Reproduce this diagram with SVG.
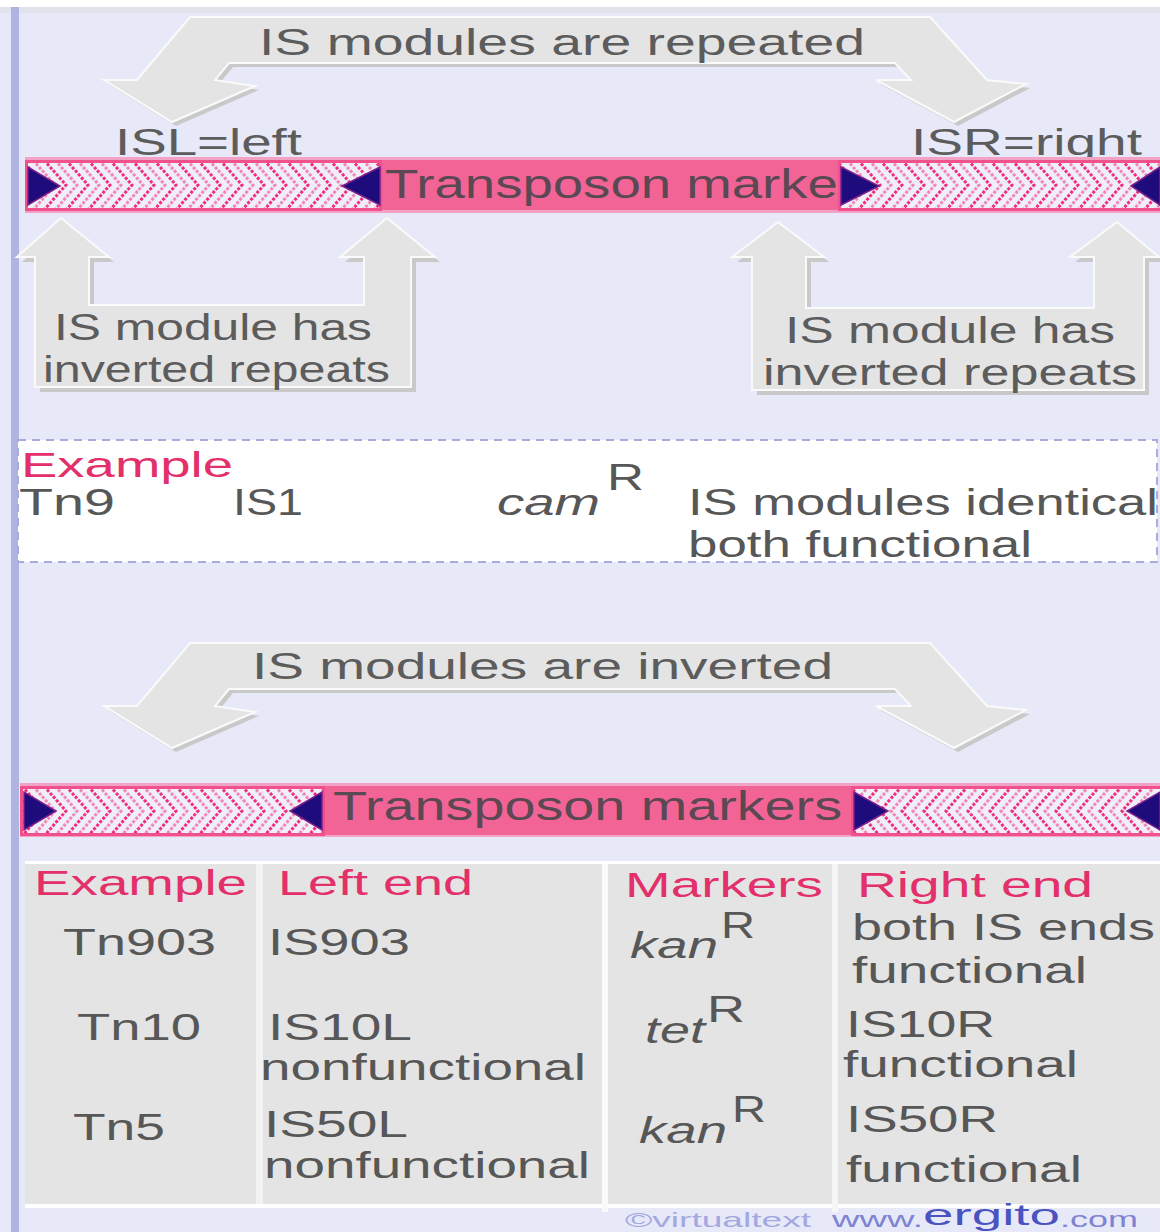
<svg xmlns="http://www.w3.org/2000/svg" width="1160" height="1232" viewBox="0 0 1160 1232">
<style>
text{font-family:"Liberation Sans",Arial,sans-serif;}
.g{fill:#5c5c5c;font-size:37px;}
.gs{fill:#575757;font-size:37px;}
.pk{fill:#e3306a;font-size:35px;}
.it{font-style:italic;}
.arr{fill:#e4e4e4;stroke:#fafafa;stroke-width:2;}
.sh{fill:#c9c9c9;}
.tri{fill:#1e0c7c;stroke:#7a1e8c;stroke-width:1.5;}
.solid{fill:#f26496;}
.bt{fill:#5a4852;font-size:40px;}
</style>
<defs>
<pattern id="hR1" patternUnits="userSpaceOnUse" x="0" y="160" width="22" height="50">
<rect width="22" height="50" fill="#f0eef8"/>
<g fill="none" stroke-width="3" stroke-dasharray="3 1.6">
<polyline points="0,0 22,25 0,50" stroke="#f02e7c"/>
<polyline points="-22,0 0,25 -22,50" stroke="#f02e7c"/>
<polyline points="11,0 33,25 11,50" stroke="#f287b6"/>
<polyline points="-11,0 11,25 -11,50" stroke="#f287b6"/>
</g>
</pattern>
<pattern id="hR2" patternUnits="userSpaceOnUse" x="0" y="786" width="22" height="50">
<rect width="22" height="50" fill="#f0eef8"/>
<g fill="none" stroke-width="3" stroke-dasharray="3 1.6">
<polyline points="0,0 22,25 0,50" stroke="#f02e7c"/>
<polyline points="-22,0 0,25 -22,50" stroke="#f02e7c"/>
<polyline points="11,0 33,25 11,50" stroke="#f287b6"/>
<polyline points="-11,0 11,25 -11,50" stroke="#f287b6"/>
</g>
</pattern>
<pattern id="hL2" patternUnits="userSpaceOnUse" x="0" y="786" width="22" height="50">
<rect width="22" height="50" fill="#f0eef8"/>
<g fill="none" stroke-width="3" stroke-dasharray="3 1.6">
<polyline points="22,0 0,25 22,50" stroke="#f02e7c"/>
<polyline points="44,0 22,25 44,50" stroke="#f02e7c"/>
<polyline points="11,0 -11,25 11,50" stroke="#f287b6"/>
<polyline points="33,0 11,25 33,50" stroke="#f287b6"/>
</g>
</pattern>
<polygon id="bent" points="190,17 930,17 987,80 1026,84 954,122 876,80 911,80 895,63 229,63 215,80 255,86 172,122 104,80 137,80"/>
</defs>

<!-- background -->
<rect width="1160" height="1232" fill="#e7e9f8"/>
<rect width="1160" height="7" fill="#ffffff"/>
<rect y="7" width="1160" height="6" fill="#e0e2ec"/>
<rect x="11" y="7" width="8" height="1225" fill="#b0b4e0"/>

<g id="connectors">
<g id="arrow-repeated">
<use href="#bent" class="sh" transform="translate(4,4)"/>
<use href="#bent" class="arr"/>
<text class="g" x="259" y="55" textLength="606" lengthAdjust="spacingAndGlyphs">IS modules are repeated</text>
</g>
<g id="arrow-left-ir">
<polygon class="sh" transform="translate(5,5)" points="61,218 109,257 89,257 89,305 364,305 364,257 340,257 387,218 435,257 411,257 411,387 35,387 35,257 17,257"/>
<polygon class="arr" points="61,218 109,257 89,257 89,305 364,305 364,257 340,257 387,218 435,257 411,257 411,387 35,387 35,257 17,257"/>
<text class="g" x="54" y="340" textLength="318" lengthAdjust="spacingAndGlyphs">IS module has</text>
<text class="g" x="43" y="382" textLength="347" lengthAdjust="spacingAndGlyphs">inverted repeats</text>
</g>
<g id="arrow-right-ir">
<polygon class="sh" transform="translate(5,5)" points="778,222 824,257 806,257 806,308 1094,308 1094,257 1070,257 1117,222 1159,257 1144,257 1144,390 752,390 752,257 732,257"/>
<polygon class="arr" points="778,222 824,257 806,257 806,308 1094,308 1094,257 1070,257 1117,222 1159,257 1144,257 1144,390 752,390 752,257 732,257"/>
<text class="g" x="785" y="343" textLength="330" lengthAdjust="spacingAndGlyphs">IS module has</text>
<text class="g" x="763" y="385" textLength="374" lengthAdjust="spacingAndGlyphs">inverted repeats</text>
</g>
<g id="arrow-inverted" transform="translate(0,626)">
<use href="#bent" class="sh" transform="translate(4,4)"/>
<use href="#bent" class="arr"/>
</g>
<text class="g" x="252" y="679" textLength="581" lengthAdjust="spacingAndGlyphs">IS modules are inverted</text>
</g>

<g id="labels-top">
<text class="g" x="115" y="155" textLength="187" lengthAdjust="spacingAndGlyphs">ISL=left</text>
<text class="g" x="911" y="155" textLength="231" lengthAdjust="spacingAndGlyphs">ISR=right</text>
</g>

<g id="transposon-top">
<rect x="25" y="157" width="1135" height="56" fill="#f2a2c4"/>
<rect x="381" y="160" width="460" height="50" class="solid"/>
<text class="bt" x="385" y="198" textLength="471" lengthAdjust="spacingAndGlyphs">Transposon marker</text>
<rect x="26.5" y="161.5" width="354" height="48" fill="url(#hR1)" stroke="#f0508c" stroke-width="3"/>
<rect x="839.5" y="161.5" width="324" height="48" fill="url(#hR1)" stroke="#f0508c" stroke-width="3"/>
<polygon class="tri" points="28,167 28,205 60,186"/>
<polygon class="tri" points="380,167 380,205 342,186"/>
<polygon class="tri" points="841,167 841,205 879,186"/>
<polygon class="tri" points="1160,167 1160,205 1131,186"/>
</g>

<g id="example-box">
<rect x="18" y="440" width="1139" height="122" fill="#ffffff" stroke="#a8acdc" stroke-width="2" stroke-dasharray="8 6"/>
<text class="pk" x="21" y="477" textLength="212" lengthAdjust="spacingAndGlyphs" fill="#e8467a">Example</text>
<text class="gs" x="19" y="515" textLength="96" lengthAdjust="spacingAndGlyphs">Tn9</text>
<text class="gs" x="233" y="515" textLength="70" lengthAdjust="spacingAndGlyphs">IS1</text>
<text class="gs it" x="497" y="515" textLength="103" lengthAdjust="spacingAndGlyphs">cam</text>
<text class="gs" x="607" y="490" textLength="37" lengthAdjust="spacingAndGlyphs">R</text>
<text class="gs" x="688" y="515" textLength="470" lengthAdjust="spacingAndGlyphs">IS modules identical</text>
<text class="gs" x="688" y="557" textLength="344" lengthAdjust="spacingAndGlyphs">both functional</text>
</g>

<g id="transposon-bottom">
<rect x="20" y="783" width="1140" height="54" fill="#f2a2c4"/>
<rect x="324" y="786" width="530" height="49" class="solid"/>
<text class="bt" x="333" y="820" textLength="509" lengthAdjust="spacingAndGlyphs">Transposon markers</text>
<rect x="21.5" y="787.5" width="302" height="47" fill="url(#hR2)" stroke="#f0508c" stroke-width="3"/>
<rect x="852.5" y="787.5" width="311" height="47" fill="url(#hL2)" stroke="#f0508c" stroke-width="3"/>
<polygon class="tri" points="24,792 24,830 56,811"/>
<polygon class="tri" points="322,792 322,830 290,811"/>
<polygon class="tri" points="854,792 854,830 888,811"/>
<polygon class="tri" points="1160,792 1160,830 1127,811"/>
</g>

<g id="table">
<rect x="25" y="861" width="1135" height="3" fill="#ffffff"/>
<rect x="25" y="864" width="1135" height="340" fill="#e4e4e4"/>
<rect x="25" y="1204" width="1135" height="4" fill="#ffffff"/>
<rect x="256" y="864" width="7" height="340" fill="#f2f2f2"/>
<rect x="602" y="864" width="6" height="348" fill="#fafafa"/>
<rect x="832" y="864" width="6" height="348" fill="#f6f6f6"/>
<text class="pk" x="34" y="895" textLength="213" lengthAdjust="spacingAndGlyphs" fill="#e8467a">Example</text>
<text class="pk" x="278" y="895" textLength="195" lengthAdjust="spacingAndGlyphs">Left end</text>
<text class="pk" x="625" y="897" textLength="198" lengthAdjust="spacingAndGlyphs">Markers</text>
<text class="pk" x="857" y="897" textLength="236" lengthAdjust="spacingAndGlyphs">Right end</text>

<text class="gs" x="63" y="955" textLength="153" lengthAdjust="spacingAndGlyphs">Tn903</text>
<text class="gs" x="268" y="955" textLength="142" lengthAdjust="spacingAndGlyphs">IS903</text>
<text class="gs it" x="630" y="958" textLength="88" lengthAdjust="spacingAndGlyphs">kan</text>
<text class="gs" x="721" y="938" textLength="34" lengthAdjust="spacingAndGlyphs">R</text>
<text class="gs" x="852" y="940" textLength="303" lengthAdjust="spacingAndGlyphs">both IS ends</text>
<text class="gs" x="852" y="983" textLength="235" lengthAdjust="spacingAndGlyphs">functional</text>

<text class="gs" x="77" y="1040" textLength="124" lengthAdjust="spacingAndGlyphs">Tn10</text>
<text class="gs" x="268" y="1040" textLength="144" lengthAdjust="spacingAndGlyphs">IS10L</text>
<text class="gs" x="260" y="1080" textLength="326" lengthAdjust="spacingAndGlyphs">nonfunctional</text>
<text class="gs it" x="645" y="1043" textLength="60" lengthAdjust="spacingAndGlyphs">tet</text>
<text class="gs" x="707" y="1022" textLength="38" lengthAdjust="spacingAndGlyphs">R</text>
<text class="gs" x="846" y="1037" textLength="149" lengthAdjust="spacingAndGlyphs">IS10R</text>
<text class="gs" x="843" y="1077" textLength="235" lengthAdjust="spacingAndGlyphs">functional</text>

<text class="gs" x="73" y="1140" textLength="92" lengthAdjust="spacingAndGlyphs">Tn5</text>
<text class="gs" x="264" y="1137" textLength="144" lengthAdjust="spacingAndGlyphs">IS50L</text>
<text class="gs" x="264" y="1178" textLength="326" lengthAdjust="spacingAndGlyphs">nonfunctional</text>
<text class="gs it" x="639" y="1143" textLength="88" lengthAdjust="spacingAndGlyphs">kan</text>
<text class="gs" x="732" y="1122" textLength="34" lengthAdjust="spacingAndGlyphs">R</text>
<text class="gs" x="846" y="1132" textLength="152" lengthAdjust="spacingAndGlyphs">IS50R</text>
<text class="gs" x="846" y="1182" textLength="236" lengthAdjust="spacingAndGlyphs">functional</text>
</g>

<g id="footer">
<text x="625" y="1227" font-size="21" fill="#a4a8e0" textLength="186" lengthAdjust="spacingAndGlyphs">©virtualtext</text>
<text x="832" y="1227" font-size="22" fill="#7e84d2" textLength="91" lengthAdjust="spacingAndGlyphs">www.</text>
<text x="923" y="1225" font-size="30" fill="#4b53c0" textLength="137" lengthAdjust="spacingAndGlyphs">ergito</text>
<text x="1060" y="1227" font-size="22" fill="#7e84d2" textLength="78" lengthAdjust="spacingAndGlyphs">.com</text>
</g>
</svg>
